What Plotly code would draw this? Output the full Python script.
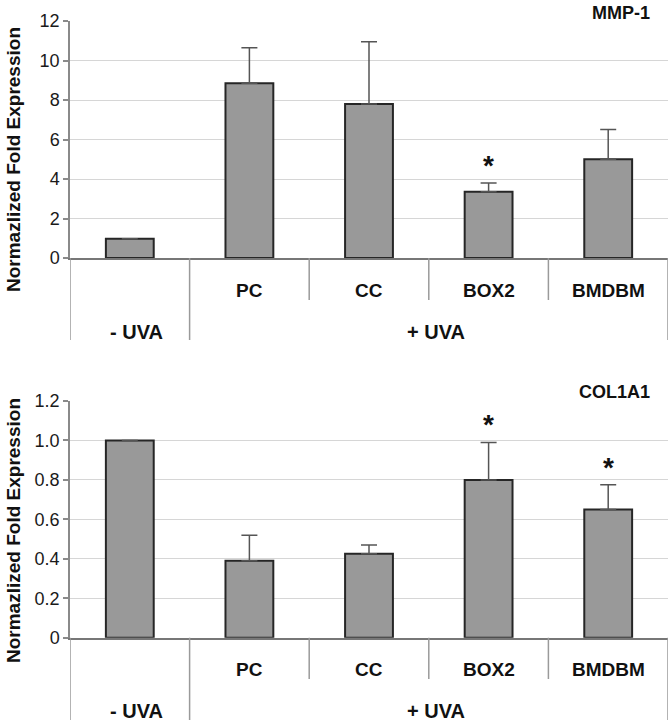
import plotly.graph_objects as go

# ---------------- data ----------------
categories = ["- UVA", "PC", "CC", "BOX2", "BMDBM"]
cat_labels = ["", "PC", "CC", "BOX2", "BMDBM"]
group_labels = ["- UVA", "+ UVA"]
group_members = [[0], [1, 2, 3, 4]]

mmp1_values = [0.97, 8.85, 7.8, 3.35, 5.0]
mmp1_errors = [0.0, 1.8, 3.15, 0.45, 1.5]
mmp1_sig = [False, False, False, True, False]
mmp1_ticks = [0, 2, 4, 6, 8, 10, 12]
mmp1_ticktext = ["0", "2", "4", "6", "8", "10", "12"]

col1a1_values = [1.0, 0.39, 0.425, 0.80, 0.65]
col1a1_errors = [0.0, 0.13, 0.045, 0.19, 0.125]
col1a1_sig = [False, False, False, True, True]
col1a1_ticks = [0, 0.2, 0.4, 0.6, 0.8, 1.0, 1.2]
col1a1_ticktext = ["0", "0.2", "0.4", "0.6", "0.8", "1.0", "1.2"]

panel_titles = ["MMP-1", "COL1A1"]
y_title = "Normazlized Fold Expression"

# ---------------- layout helpers ----------------
W, H = 672, 724
FONT = "Liberation Sans, Arial, sans-serif"

def px_x(p):
    return p / W

def px_y(p):
    return 1 - p / H

X_LEFT, X_RIGHT = 70, 668
panels = [
    dict(values=mmp1_values, errors=mmp1_errors, sig=mmp1_sig, ticks=mmp1_ticks,
         ticktext=mmp1_ticktext, top=21, bottom=258, ymax=12, title=panel_titles[0],
         title_y=13, cat_y=290, grp_y=332, short_end=300, long_end=340, ytitle_c=160),
    dict(values=col1a1_values, errors=col1a1_errors, sig=col1a1_sig, ticks=col1a1_ticks,
         ticktext=col1a1_ticktext, top=401, bottom=637.7, ymax=1.2, title=panel_titles[1],
         title_y=392, cat_y=669, grp_y=711, short_end=679, long_end=720, ytitle_c=531),
]

fig = go.Figure()
shapes = []
annotations = []

for k, p in enumerate(panels):
    xa = "x" if k == 0 else "x2"
    ya = "y" if k == 0 else "y2"
    xkey = "xaxis" if k == 0 else "xaxis2"
    ykey = "yaxis" if k == 0 else "yaxis2"

    fig.add_trace(go.Bar(
        x=categories, y=p["values"], xaxis=xa, yaxis=ya,
        width=0.4,
        marker=dict(color="#999999", line=dict(color="#262626", width=2)),
        error_y=dict(type="data", symmetric=False, array=p["errors"],
                     arrayminus=[0] * len(p["errors"]),
                     color="#555555", thickness=1.5, width=8),
        showlegend=False, hoverinfo="skip",
    ))

    fig.update_layout(**{
        xkey: dict(domain=[px_x(X_LEFT), px_x(X_RIGHT)], range=[-0.5, len(categories) - 0.5],
                   type="category", categoryorder="array", categoryarray=categories,
                   showticklabels=False, showgrid=False, zeroline=False,
                   showline=True, linecolor="#777777", linewidth=1.5,
                   anchor=ya, fixedrange=True, automargin=False),
        ykey: dict(domain=[px_y(p["bottom"]), px_y(p["top"])], range=[0, p["ymax"]],
                   tickvals=p["ticks"], ticktext=p["ticktext"],
                   showgrid=True, gridcolor="#d6d6d6", gridwidth=1,
                   zeroline=False, showline=True, linecolor="#8a8a8a", linewidth=1.5,
                   ticks="outside", ticklen=5, tickcolor="#8a8a8a", tickwidth=1.5,
                   tickfont=dict(family=FONT, size=18, color="#1a1a1a"),
                   anchor=xa, fixedrange=True, automargin=False),
    })

    # table-like separators below the axis
    n = len(categories)
    bounds = [i - 0.5 for i in range(n + 1)]
    group_edges = {-0.5, n - 0.5}
    for g in group_members:
        group_edges.add(g[0] - 0.5)
        group_edges.add(g[-1] + 0.5)
    for b in bounds:
        end = p["long_end"] if b in group_edges else p["short_end"]
        shapes.append(dict(type="line", xref=xa, yref="paper", x0=b, x1=b,
                           y0=px_y(p["bottom"]), y1=px_y(end),
                           line=dict(color="#9a9a9a", width=1.5)))

    for c, lab in zip(categories, cat_labels):
        if lab:
            annotations.append(dict(x=c, y=px_y(p["cat_y"]), xref=xa, yref="paper",
                                    text=f"<b>{lab}</b>", showarrow=False,
                                    font=dict(family=FONT, size=19, color="#111111"),
                                    xanchor="center", yanchor="middle"))
    for lab, members in zip(group_labels, group_members):
        center = (members[0] + members[-1]) / 2
        annotations.append(dict(x=center, y=px_y(p["grp_y"]), xref=xa, yref="paper",
                                text=f"<b>{lab}</b>", showarrow=False, xshift=7,
                                font=dict(family=FONT, size=20, color="#111111"),
                                xanchor="center", yanchor="middle"))

    # significance stars
    for c, v, e, s in zip(categories, p["values"], p["errors"], p["sig"]):
        if s:
            annotations.append(dict(x=c, y=v + e, xref=xa, yref=ya, text="<b>*</b>",
                                    showarrow=False, yanchor="bottom", yshift=0,
                                    font=dict(family=FONT, size=28, color="#111111")))

    # panel title
    annotations.append(dict(x=px_x(652), y=px_y(p["title_y"]), xref="paper", yref="paper",
                            text=f"<b>{p['title']}</b>", showarrow=False,
                            xanchor="right", yanchor="middle",
                            font=dict(family=FONT, size=18, color="#111111")))

    # y axis title
    annotations.append(dict(x=px_x(13), y=px_y(p["ytitle_c"]), xref="paper", yref="paper",
                            text=f"<b>{y_title}</b>", showarrow=False, textangle=-90,
                            xanchor="center", yanchor="middle",
                            font=dict(family=FONT, size=19, color="#111111")))

fig.update_layout(
    width=W, height=H,
    margin=dict(l=0, r=0, t=0, b=0),
    paper_bgcolor="white", plot_bgcolor="white",
    shapes=shapes, annotations=annotations,
    bargap=0.6,
)

fig.write_html("out.html", config={"displayModeBar": False},
               post_script="document.body.style.margin='0px';document.body.style.overflow='hidden';")
